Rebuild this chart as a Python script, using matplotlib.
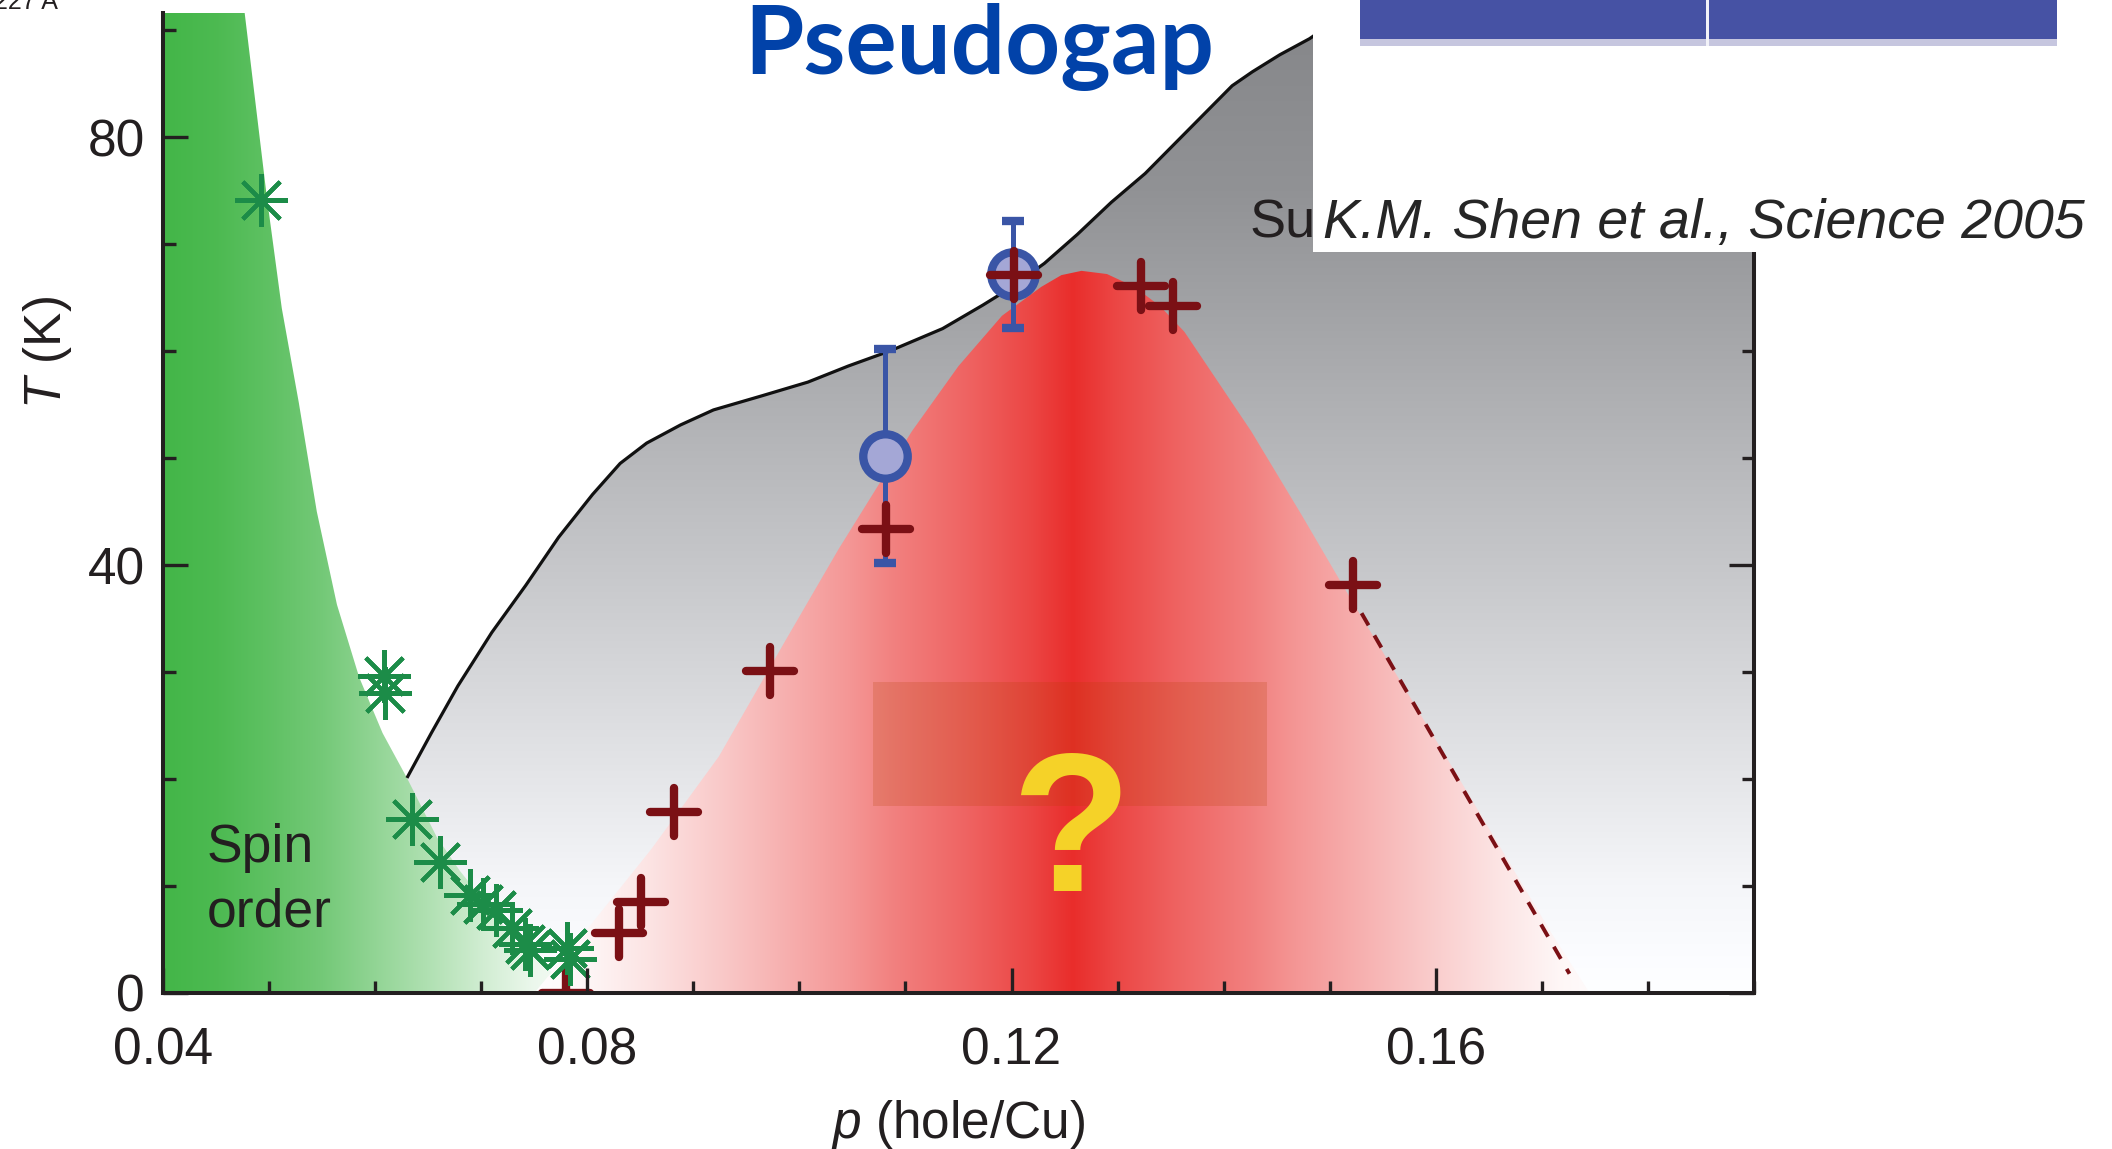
import numpy as np
import matplotlib
matplotlib.use("Agg")
import matplotlib.pyplot as plt
from matplotlib.patches import Polygon, Rectangle
from matplotlib.markers import MarkerStyle
from matplotlib.ticker import FixedLocator, MultipleLocator, FuncFormatter

plt.rcParams['font.family'] = ['Liberation Sans', 'DejaVu Sans']
plt.rcParams['mathtext.fontset'] = 'custom'
plt.rcParams['mathtext.it'] = 'Liberation Sans:italic'
plt.rcParams['mathtext.rm'] = 'Liberation Sans'

# ---------------- data ----------------
# spin order (green asterisks)
spin_p = [0.0492, 0.0608, 0.0609, 0.0635, 0.0661, 0.0689, 0.0702, 0.0714, 0.0729, 0.0741, 0.0746, 0.0781, 0.0784]
spin_T = [74.1, 29.6, 28.0, 16.3, 12.2, 9.2, 8.3, 7.8, 6.1, 4.6, 4.0, 4.2, 3.2]
# superconducting Tc (dark red crosses)
tc_p = [0.0780, 0.0830, 0.0851, 0.0882, 0.0972, 0.1082, 0.1202, 0.1322, 0.1352, 0.1522]
tc_T = [0.0, 5.6, 8.5, 16.9, 30.1, 43.4, 67.1, 66.1, 64.2, 38.1]
# ARPES points with error bars (blue circles)
arpes_p = [0.1081, 0.1201]
arpes_T = [50.2, 67.2]
arpes_err = [10.0, 5.0]
# dashed extrapolation of Tc
dash_p = [0.1530, 0.1726]
dash_T = [35.5, 1.8]
# pseudogap T* line (black)
pg_p = [0.0630, 0.0653, 0.0678, 0.0710, 0.0742, 0.0773, 0.0805, 0.0831, 0.0856, 0.0888,
        0.0919, 0.0964, 0.1008, 0.1046, 0.1085, 0.1135, 0.1173, 0.1199, 0.1231, 0.1262,
        0.1294, 0.1326, 0.1358, 0.1389, 0.1408, 0.1427, 0.1453, 0.1481, 0.1500]
pg_T = [20.1, 24.3, 28.7, 33.7, 38.1, 42.6, 46.6, 49.5, 51.4, 53.1,
        54.5, 55.8, 57.1, 58.6, 60.0, 62.1, 64.3, 65.9, 68.2, 70.9,
        73.9, 76.6, 79.8, 82.9, 84.8, 86.1, 87.7, 89.2, 90.5]
# spin-order region boundary (green)
so_p = [0.0477, 0.0498, 0.0512, 0.0528, 0.0545, 0.0564, 0.0585, 0.0607, 0.0630, 0.0658,
        0.0680, 0.0702, 0.0734, 0.0760, 0.0782, 0.0800]
so_T = [91.6, 74.3, 64.0, 55.2, 45.0, 36.3, 29.5, 24.3, 20.1, 14.6,
        11.4, 8.7, 4.7, 2.4, 0.9, 0.0]
# superconducting dome boundary (red)
sc_p = [0.0750, 0.0797, 0.0860, 0.0924, 0.0986, 0.1037, 0.1106, 0.1150, 0.1191, 0.1228,
        0.1247, 0.1266, 0.1290, 0.1316, 0.1340, 0.1363, 0.1426, 0.1474, 0.1520, 0.1615,
        0.1709, 0.1745]
sc_T = [0.0, 5.6, 13.4, 22.1, 32.8, 41.5, 52.5, 58.6, 63.3, 66.0,
        67.1, 67.5, 67.2, 66.0, 64.2, 61.8, 52.5, 44.6, 36.8, 21.2,
        5.6, 0.0]

x_ticks = [0.04, 0.08, 0.12, 0.16]
y_ticks = [0, 40, 80]
XMIN, XMAX, YMIN, YMAX = 0.04, 0.19, 0.0, 91.6

DARK = '#231f20'
RED = '#7b1015'

# ---------------- figure ----------------
W, H = 2112, 1149
fig = plt.figure(figsize=(W / 100, H / 100), dpi=100)
ax = fig.add_axes([163 / W, 1 - 993 / H, 1591 / W, 980 / H])


def clip_poly(xs, ys):
    return Polygon(np.column_stack([xs, ys]), closed=True, transform=ax.transData)


# grey pseudogap region: vertical gradient
gT = np.linspace(YMIN, YMAX, 400)
gv = np.interp(gT, [0, 10, 20, 40, 60, 75, 92], [254, 245, 229, 198, 168, 145, 133])
grey = np.stack([gv, gv + 1, np.minimum(gv + 4, 255)], axis=-1) / 255.0
im = ax.imshow(grey[:, None, :], extent=(XMIN, XMAX, YMIN, YMAX), origin='lower',
               aspect='auto', interpolation='bilinear', zorder=1)
gx = list(pg_p) + [0.1510, XMAX, XMAX, 0.055, 0.055]
gy = list(pg_T) + [YMAX, YMAX, YMIN, YMIN, pg_T[0]]
im.set_clip_path(clip_poly(gx, gy))

# green spin order region: horizontal gradient
xs = np.linspace(XMIN, XMAX, 1200)
ga = np.interp(xs, [0.04, 0.045, 0.05, 0.055, 0.06, 0.065, 0.07, 0.075, 0.08, 0.083],
               [1.0, 0.95, 0.85, 0.74, 0.58, 0.42, 0.25, 0.10, 0.03, 0.0])
gbase = np.array([67, 182, 72]) / 255.0
green = 1 - ga[:, None] * (1 - gbase)
im = ax.imshow(green[None, :, :], extent=(XMIN, XMAX, YMIN, YMAX), origin='lower',
               aspect='auto', interpolation='bilinear', zorder=2)
im.set_clip_path(clip_poly([XMIN, XMIN] + so_p, [YMIN, YMAX] + so_T))

# red superconducting dome: horizontal gradient about the dome centre
d = np.abs(xs - 0.1258)
ra = np.interp(d, [0, 0.004, 0.010, 0.017, 0.021, 0.027, 0.033, 0.040, 0.046, 0.052],
               [1.0, 0.88, 0.74, 0.60, 0.50, 0.38, 0.26, 0.13, 0.04, 0.0])
rbase = np.array([233, 45, 43]) / 255.0
red = 1 - ra[:, None] * (1 - rbase)
im = ax.imshow(red[None, :, :], extent=(XMIN, XMAX, YMIN, YMAX), origin='lower',
               aspect='auto', interpolation='bilinear', zorder=3)
im.set_clip_path(clip_poly(sc_p, sc_T))

# darker translucent box with the question mark
ax.add_patch(Rectangle((0.1069, 17.5), 0.1441 - 0.1069, 29.1 - 17.5,
                       facecolor=(0.70, 0.25, 0.0), alpha=0.2, edgecolor='none', zorder=4))
ax.text(0.1256, 9.5, '?', fontsize=141, fontweight='bold', color='#f5d228',
        ha='center', va='baseline', zorder=5)

# pseudogap line
ax.plot(pg_p, pg_T, color='#111111', lw=2.3, zorder=5, solid_capstyle='butt',
        solid_joinstyle='round')
# dashed extrapolation
ax.plot(dash_p, dash_T, color=RED, lw=2.8, ls=(0, (3.6, 3.0)), zorder=6)

# ARPES points
ax.errorbar(arpes_p, arpes_T, yerr=arpes_err, fmt='o', ms=32, mfc='#a4a7d6', mec='#3a55a6',
            mew=6, ecolor='#3a55a6', elinewidth=3.6, capsize=8, capthick=4.5, zorder=7)

# Tc crosses
ax.plot(tc_p, tc_T, ls='none', marker=MarkerStyle('+', capstyle='round'), ms=35, mew=6,
        color=RED, mec=RED, zorder=8)

# spin order asterisks
ax.plot(spin_p, spin_T, ls='none', marker=MarkerStyle((8, 2, 0)), ms=38, mew=3.0,
        color='#1c8c48', mec='#1c8c48', zorder=9)

# labels inside the plot
ax.text(0.0441, 12.2, 'Spin', fontsize=38.5, color=DARK, ha='left', va='baseline', zorder=9)
ax.text(0.0441, 6.2, 'order', fontsize=38.5, color=DARK, ha='left', va='baseline', zorder=9)

# axes styling
ax.set_xlim(XMIN, XMAX)
ax.set_ylim(YMIN, YMAX)
ax.spines['top'].set_visible(False)
for s in ('left', 'right', 'bottom'):
    ax.spines[s].set_linewidth(2.9)
    ax.spines[s].set_color(DARK)
    ax.spines[s].set_zorder(12)
ax.xaxis.set_zorder(11)
ax.yaxis.set_zorder(11)
ax.xaxis.set_major_locator(FixedLocator(x_ticks))
ax.xaxis.set_minor_locator(MultipleLocator(0.01))
ax.xaxis.set_major_formatter(FuncFormatter(lambda v, pos: f'{v:.2f}'))
ax.yaxis.set_major_locator(FixedLocator(y_ticks))
ax.yaxis.set_minor_locator(MultipleLocator(10))
ax.tick_params(which='both', direction='in', right=True, top=False, width=2.4,
               color=DARK, labelcolor=DARK, labelsize=37)
ax.tick_params(which='major', length=18)
ax.tick_params(which='minor', length=9)
ax.tick_params(axis='x', pad=24)
ax.tick_params(axis='y', pad=13)

ax.set_xlabel(r'$p$ (hole/Cu)', fontsize=37, color=DARK, va='top')
ax.xaxis.set_label_coords(0.5, (993 - 1098) / 980)
ax.set_ylabel(r'$T$ (K)', fontsize=37, color=DARK, va='center', ha='center')
ax.yaxis.set_label_coords((47 - 163) / 1591, (993 - 353) / 980)

# ---------------- slide overlays ----------------
fig.text(979 / W, 1 - 74 / H, 'Pseudogap', ha='center', va='baseline', fontsize=69,
         fontweight='bold', family=['Lato', 'DejaVu Sans'], color='#0142a9', zorder=11)
fig.text(1250 / W, 1 - 238 / H, 'Su', ha='left', va='baseline', fontsize=39,
         color=DARK, zorder=9)
fig.add_artist(Rectangle((1313 / W, 1 - 252 / H), (W - 1313) / W, 252 / H + 0.01,
                         transform=fig.transFigure, facecolor='white', edgecolor='none', zorder=10))
fig.add_artist(Rectangle((1360 / W, 1 - 46 / H), (2057 - 1360) / W, 8 / H,
                         transform=fig.transFigure, facecolor='#c6c6df', edgecolor='none', zorder=11))
fig.add_artist(Rectangle((1360 / W, 1 - 39 / H), (2057 - 1360) / W, 39 / H + 0.01,
                         transform=fig.transFigure, facecolor='#4652a4', edgecolor='none', zorder=11))
fig.add_artist(Rectangle((1706 / W, 1 - 46 / H), 3 / W, 46 / H + 0.01,
                         transform=fig.transFigure, facecolor='#f2f2f8', edgecolor='none', zorder=12))
fig.text(1323 / W, 1 - 238 / H, 'K.M. Shen et al., Science 2005', ha='left', va='baseline',
         fontsize=40, style='italic', color='#262626', zorder=12)
fig.text(-0.003, 1 - 9 / H, '227 A', ha='left', va='baseline', fontsize=18, color=DARK, zorder=12)

fig.savefig('out.png', dpi=100)
